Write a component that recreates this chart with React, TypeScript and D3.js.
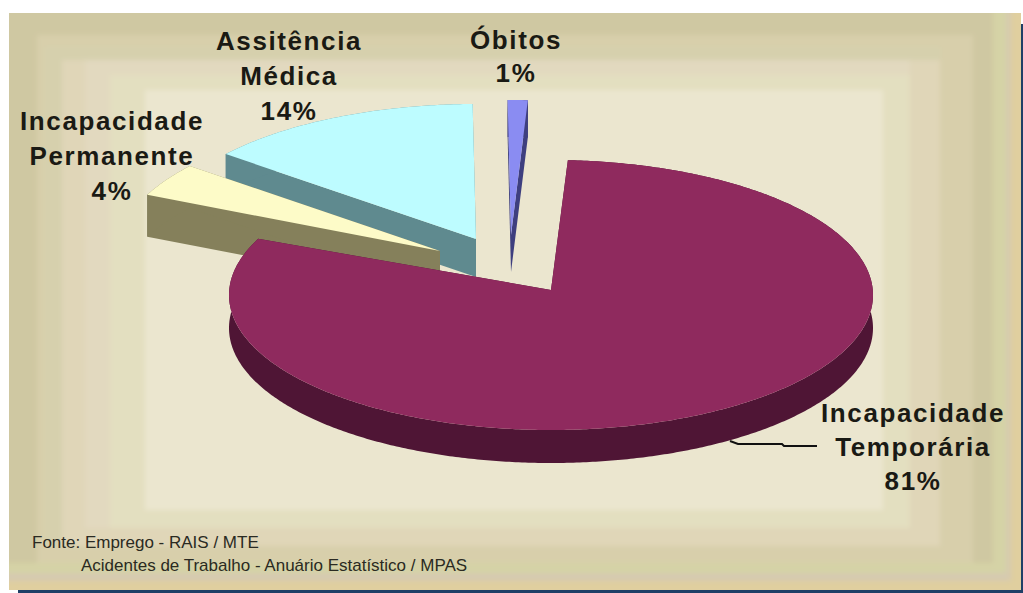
import React from "react";
import * as d3 from "d3";

// Shares of work-accident outcomes, in percent.
const categories = ["Incapacidade Temporária", "Incapacidade Permanente", "Assitência Médica", "Óbitos"];
const shares = [81, 4, 14, 1];

const topColors = ["#8f2a5e", "#fdfbc8", "#bdfcff", "#8a8cf2"];
const wallColors = ["#4f1535", "#85805b", "#5f8a8f", "#3e3f7f"];

// Ellipse centre of each slice once pulled out of the pie, and the apex its faces meet at.
const centerX = [551, 440, 476, 511];
const centerY = [295, 251, 239, 235];
const apexY = [290, 251, 239, 235];
const wallDepth = [33, 42, 38, 37];

// Painter's order: back slices first.
const paintOrder = [2, 3, 1, 0];

const labelLines = [
  ["Incapacidade", "Temporária", "81%"],
  ["Incapacidade", "Permanente", "4%"],
  ["Assitência", "Médica", "14%"],
  ["Óbitos", "1%"],
];
const labelX = [913, 112, 289, 516];
const labelY = [422, 130, 50, 49];
const labelStep = [34, 35, 35, 33];

const sourceLines = ["Fonte: Emprego - RAIS / MTE", "Acidentes de Trabalho - Anuário Estatístico / MPAS"];

// Backdrop: nested rectangles, outermost first [left, top, right, bottom, colour].
const frames: [number, number, number, number, string][] = [
  [-20, -20, 1045, 615, "#e0cf9f"],
  [-20, -20, 1011, 581, "#d6cab0"],
  [-20, -20, 1006, 573, "#d5d3a6"],
  [-20, -20, 993, 563, "#cfc8a2"],
  [37, 35, 973, 563, "#d8cfab"],
  [45, 47, 940, 546, "#d6d0ad"],
  [62, 60, 940, 546, "#e0d6b8"],
  [85, 60, 910, 528, "#e2d9bf"],
  [110, 75, 910, 528, "#e3dfc0"],
  [145, 90, 883, 510, "#ebe6cf"],
];

const RX = 322;
const RY = 135;
const FIRST_ANGLE = (3 / 180) * Math.PI;

const xUnit = d3.scaleLinear().domain([-1, 1]).range([-RX, RX]);
const yUnit = d3.scaleLinear().domain([-1, 1]).range([-RY, RY]);
const line = d3.line<[number, number]>();

const pie = d3
  .pie<number>()
  .sort(null)
  .startAngle(FIRST_ANGLE)
  .endAngle(FIRST_ANGLE + 2 * Math.PI);

function rimPoint(i: number, a: number, dy = 0): [number, number] {
  return [centerX[i] + xUnit(Math.sin(a)), centerY[i] + yUnit(-Math.cos(a)) + dy];
}

function arcPoints(i: number, a0: number, a1: number, dy = 0): [number, number][] {
  const n = Math.max(2, Math.ceil(Math.abs(a1 - a0) / 0.01));
  return d3.range(n + 1).map((k) => rimPoint(i, a0 + ((a1 - a0) * k) / n, dy));
}

function Slice({ i, a0, a1 }: { i: number; a0: number; a1: number }) {
  const d = wallDepth[i];
  const v: [number, number] = [centerX[i], apexY[i]];
  const vLow: [number, number] = [v[0], v[1] + d];
  const top = line([v, ...arcPoints(i, a0, a1)]) + "Z";
  const rim = line([...arcPoints(i, a0, a1), ...arcPoints(i, a1, a0, d)]) + "Z";
  const startWall = line([v, rimPoint(i, a0), rimPoint(i, a0, d), vLow]) + "Z";
  const endWall = line([v, rimPoint(i, a1), rimPoint(i, a1, d), vLow]) + "Z";
  return (
    <g>
      <path d={startWall} fill={wallColors[i]} />
      <path d={endWall} fill={wallColors[i]} />
      <path d={rim} fill={wallColors[i]} />
      <path d={top} fill={topColors[i]} />
    </g>
  );
}

export default function App() {
  const arcs = pie(shares);
  return (
    <svg
      width={1023}
      height={593}
      viewBox="0 0 1023 593"
      style={{ position: "absolute", left: 0, top: 0, background: "#fff" }}
    >
      <defs>
        <filter id="soften" filterUnits="userSpaceOnUse" x={-30} y={-30} width={1090} height={660}>
          <feGaussianBlur stdDeviation="2.5" />
        </filter>
        <clipPath id="panel">
          <rect x={9} y={13} width={1012} height={577} />
        </clipPath>
      </defs>

      <rect x={18} y={24} width={1005} height={569} fill="#1f3f66" />
      <g clipPath="url(#panel)">
        <g filter="url(#soften)">
          {frames.map(([l, t, r, b, c], k) => (
            <rect key={k} x={l} y={t} width={r - l} height={b - t} fill={c} />
          ))}
        </g>
      </g>

      {paintOrder.map((i) => (
        <Slice key={i} i={i} a0={arcs[i].startAngle} a1={arcs[i].endAngle} />
      ))}

      <path
        d={line([[730, 441], [738, 444], [782, 444], [784, 446], [817, 446]]) ?? ""}
        fill="none"
        stroke="#111"
        strokeWidth={2}
      />

      {categories.map((name, i) => (
        <text
          key={name}
          x={labelX[i]}
          y={labelY[i]}
          textAnchor="middle"
          fontFamily="'Liberation Sans', Arial, sans-serif"
          fontWeight="bold"
          fontSize={26}
          letterSpacing={1.6}
          fill="#1a1a14"
        >
          {labelLines[i].map((t, k) => (
            <tspan key={k} x={labelX[i]} y={labelY[i] + k * labelStep[i]}>
              {t}
            </tspan>
          ))}
        </text>
      ))}

      <g fontFamily="'Liberation Sans', Arial, sans-serif" fontSize={17} fill="#2a2a22">
        <text x={32} y={548}>{sourceLines[0]}</text>
        <text x={81} y={571}>{sourceLines[1]}</text>
      </g>
    </svg>
  );
}
